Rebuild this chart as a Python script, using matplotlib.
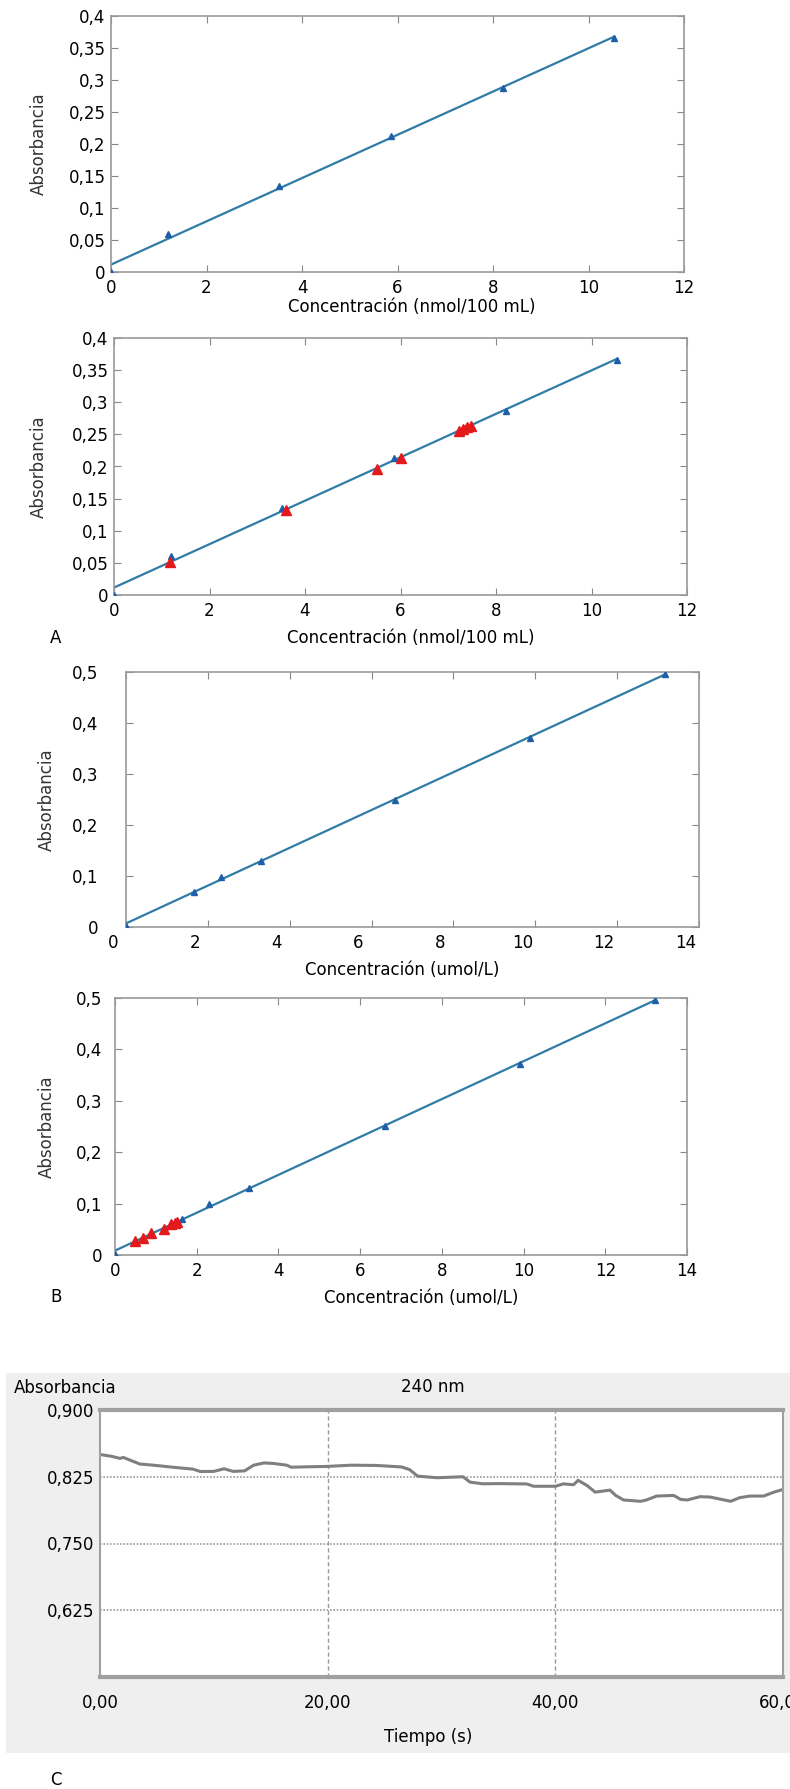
import numpy as np
import matplotlib
matplotlib.use('Agg')
import matplotlib.pyplot as plt
import matplotlib.transforms as mtransforms
from matplotlib.ticker import MultipleLocator, FuncFormatter
from matplotlib.patches import Rectangle

# --- datos panel A (nmol/100 mL) ---
a_std_x = [0.0, 1.19, 3.51, 5.86, 8.21, 10.54]
a_std_y = [0.0, 0.060, 0.135, 0.213, 0.287, 0.365]
a_mues_x = [1.18, 3.60, 5.50, 6.02, 7.23, 7.31, 7.40, 7.47]
a_mues_y = [0.051, 0.1325, 0.196, 0.214, 0.256, 0.258, 0.261, 0.263]

# --- datos panel B (umol/L) ---
b_std_x = [0.0, 1.65, 2.31, 3.29, 6.57, 9.87, 13.18]
b_std_y = [0.002, 0.068, 0.099, 0.130, 0.250, 0.371, 0.496]
b_std2_x = [0.0, 1.65, 2.30, 3.28, 6.60, 9.92, 13.22]
b_std2_y = [0.002, 0.070, 0.100, 0.131, 0.251, 0.372, 0.496]
b_mues_x = [0.49, 0.69, 0.89, 1.20, 1.38, 1.46, 1.52]
b_mues_y = [0.027, 0.034, 0.042, 0.051, 0.061, 0.063, 0.064]

# --- datos panel C (cinética 240 nm) ---
c_t = [0.0, 1.0, 1.76, 2.05, 3.5, 4.7, 6.4, 8.2, 8.8, 10.0, 10.9, 11.7, 12.7,
       13.5, 14.4, 15.2, 16.4, 16.8, 17.6, 19.9, 22.1, 24.3, 26.5, 27.2, 27.9,
       29.6, 31.9, 32.5, 33.6, 35.1, 37.5, 38.1, 40.0, 40.7, 41.6, 42.0, 42.8,
       43.5, 44.8, 45.3, 46.0, 47.5, 48.0, 48.9, 50.4, 51.0, 51.6, 52.7, 53.6,
       55.4, 56.2, 57.1, 58.3, 59.2, 60.0]
c_abs = [0.850, 0.848, 0.8456, 0.8467, 0.8393, 0.838, 0.8357, 0.8335, 0.8309,
         0.831, 0.834, 0.831, 0.8316, 0.838, 0.8405, 0.840, 0.838, 0.8357,
         0.836, 0.8366, 0.838, 0.8377, 0.836, 0.833, 0.8257, 0.8239, 0.825,
         0.819, 0.8171, 0.8173, 0.8169, 0.8143, 0.8143, 0.817, 0.816, 0.821,
         0.815, 0.8077, 0.810, 0.804, 0.7989, 0.7974, 0.7989, 0.8033, 0.804,
         0.7996, 0.7989, 0.8026, 0.8022, 0.7974, 0.8015, 0.8033, 0.8033,
         0.8077, 0.8107]
c_yticks = [0.9, 0.825, 0.75, 0.675]
c_ylabels = ['0,900', '0,825', '0,750', '0,625']
c_xticks = [0, 20, 40, 60]

LINE = '#2f7ca6'
BLUE = '#1f5ea8'
RED = '#e3191c'

W, H = 790, 1789
fig = plt.figure(figsize=(W / 100, H / 100), dpi=100)
plt.rcParams['font.family'] = ['DejaVu Sans']


def rect(left, right, top, bottom):
    return [left / W, 1 - bottom / H, (right - left) / W, (bottom - top) / H]


def coma(v, pos=None):
    return ('%g' % round(v, 3)).replace('.', ',')


def calibracion(ax, xs, ys, xmax, ymax, ystep, xlabel, rx, ylx, xly, ypad=4):
    m, b = np.polyfit(xs, ys, 1)
    xx = np.array([0, max(xs)])
    ax.plot(xx, m * xx + b, color=LINE, lw=1.6, zorder=2)
    ax.plot(xs, ys, '^', color=BLUE, ms=5, zorder=3)
    ax.set_xlim(0, xmax)
    ax.set_ylim(0, ymax)
    ax.xaxis.set_major_locator(MultipleLocator(2))
    ax.yaxis.set_major_locator(MultipleLocator(ystep))
    ax.xaxis.set_major_formatter(FuncFormatter(coma))
    ax.yaxis.set_major_formatter(FuncFormatter(coma))
    ax.tick_params(direction='in', top=True, right=True, length=5,
                   color='#888888', labelsize=12, pad=5)
    ax.tick_params(axis='y', pad=ypad)
    for s in ax.spines.values():
        s.set_color('#999999')
        s.set_linewidth(1.2)
    ax.set_xlabel(xlabel, fontsize=12, va='center')
    ax.xaxis.set_label_coords(rx, xly)
    ax.set_ylabel('Absorbancia', fontsize=12, color='#333333', va='center')
    ax.yaxis.set_label_coords(ylx, 0.5)


# Panel A superior
ax1 = fig.add_axes(rect(111, 684, 16, 272))
calibracion(ax1, a_std_x, a_std_y, 12, 0.4, 0.05,
            'Concentración (nmol/100 mL)', 0.525, (39 - 111) / 573, -35 / 256)

# Panel A inferior
ax2 = fig.add_axes(rect(114, 687, 338, 595))
calibracion(ax2, a_std_x, a_std_y, 12, 0.4, 0.05,
            'Concentración (nmol/100 mL)', 0.518, (39 - 114) / 573, -43 / 257)
ax2.plot(a_mues_x, a_mues_y, '^', color=RED, ms=7, zorder=4)
fig.text(56 / W, 1 - 638 / H, 'A', fontsize=12, ha='center', va='center')

# Panel B superior
ax3 = fig.add_axes(rect(126, 699, 672, 927))
calibracion(ax3, b_std_x, b_std_y, 14, 0.5, 0.1,
            'Concentración (umol/L)', 0.482, (47 - 126) / 573, -43 / 255, ypad=20)
off = mtransforms.ScaledTranslation(-0.13, 0, fig.dpi_scale_trans)
for lab in ax3.get_xticklabels():
    lab.set_transform(lab.get_transform() + off)

# Panel B inferior
ax4 = fig.add_axes(rect(115, 687, 998, 1255))
calibracion(ax4, b_std2_x, b_std2_y, 14, 0.5, 0.1,
            'Concentración (umol/L)', 0.535, (47 - 115) / 572, -43 / 257, ypad=9)
ax4.plot(b_mues_x, b_mues_y, '^', color=RED, ms=7, zorder=4)
fig.text(56 / W, 1 - 1297 / H, 'B', fontsize=12, ha='center', va='center')

# Panel C - fondo gris
fig.patches.append(Rectangle((6 / W, 1 - 1753 / H), (W - 6) / W, (1753 - 1373) / H,
                             transform=fig.transFigure, facecolor='#efefef',
                             edgecolor='none', zorder=-1))
ax5 = fig.add_axes(rect(100, 783, 1410, 1677))
ax5.set_zorder(1)
ax5.set_facecolor('white')
ax5.plot(c_t, c_abs, color='#7f7f7f', lw=2.2)
ax5.set_xlim(0, 60)
ax5.set_ylim(0.6, 0.9)
ax5.set_yticks(c_yticks, c_ylabels)
ax5.set_xticks(c_xticks, [('%.2f' % v).replace('.', ',') for v in c_xticks])
ax5.tick_params(length=0, labelsize=12, pad=4)
ax5.tick_params(axis='x', pad=12)
for yv in c_yticks[1:]:
    ax5.axhline(yv, color='#9a9a9a', lw=1.2, ls=(0, (1, 1)), zorder=1)
for xv in c_xticks[1:-1]:
    ax5.axvline(xv, color='#9a9a9a', lw=1.0, ls=(0, (3, 2)), zorder=1)
for name, s in ax5.spines.items():
    s.set_color('#a0a0a0')
    s.set_linewidth(3 if name in ('top', 'bottom') else 1.5)
fig.text(14 / W, 1 - 1388 / H, 'Absorbancia', fontsize=12, ha='left', va='center')
fig.text(433 / W, 1 - 1387 / H, '240 nm', fontsize=12, ha='center', va='center')
fig.text(428 / W, 1 - 1737 / H, 'Tiempo (s)', fontsize=12, ha='center', va='center')
fig.text(56 / W, 1 - 1780 / H, 'C', fontsize=12, ha='center', va='center')

fig.savefig('out.png', dpi=100, facecolor='white')
